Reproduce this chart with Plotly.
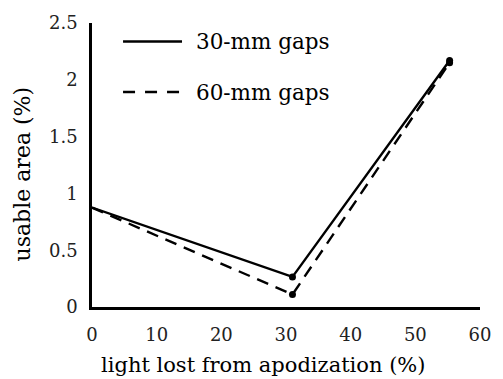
import plotly.graph_objects as go

x_vals = [0, 31, 55.3]
gap30 = [0.875, 0.265, 2.17]
gap60 = [0.875, 0.11, 2.15]
series_names = ["30-mm gaps", "60-mm gaps"]
x_ticks = [0, 10, 20, 30, 40, 50, 60]
y_ticks = [0, 0.5, 1, 1.5, 2, 2.5]
y_tick_text = ["0", "0.5", "1", "1.5", "2", "2.5"]
x_title = "light lost from apodization (%)"
y_title = "usable area (%)"

FONT = "DejaVu Serif"

fig = go.Figure()
fig.add_trace(go.Scatter(
    x=x_vals, y=gap30, mode="lines", name=series_names[0],
    line=dict(color="black", width=2.4), showlegend=False))
fig.add_trace(go.Scatter(
    x=x_vals, y=gap60, mode="lines", name=series_names[1],
    line=dict(color="black", width=2.4, dash="12px,8px"), showlegend=False))
fig.add_trace(go.Scatter(
    x=x_vals[1:], y=gap30[1:], mode="markers",
    marker=dict(color="black", size=7), showlegend=False))
fig.add_trace(go.Scatter(
    x=x_vals[1:], y=gap60[1:], mode="markers",
    marker=dict(color="black", size=7), showlegend=False))

# manual legend
legend_rows = [(0.935, "solid", series_names[0]), (0.757, "dash", series_names[1])]
for yy, dash, label in legend_rows:
    fig.add_shape(type="line", xref="x domain", yref="y domain",
                  x0=0.08, x1=0.232, y0=yy, y1=yy,
                  line=dict(color="black", width=2.4,
                            dash="solid" if dash == "solid" else "12px,10px"))
    fig.add_annotation(xref="x domain", yref="y domain", x=0.262, y=yy,
                       text=label, showarrow=False, xanchor="left", yanchor="middle",
                       font=dict(family=FONT, size=21.5, color="black"))

# axis titles
fig.add_annotation(xref="x domain", yref="y domain", x=0.441, y=-0.205,
                   text=x_title, showarrow=False, xanchor="center", yanchor="middle",
                   font=dict(family=FONT, size=21, color="black"))
fig.add_annotation(xref="x domain", yref="y domain", x=-0.178, y=0.47,
                   text=y_title, showarrow=False, xanchor="center", yanchor="middle",
                   textangle=-90, font=dict(family=FONT, size=22, color="black"))

fig.update_xaxes(range=[0, 60], tickvals=x_ticks, showline=True, linecolor="black",
                 linewidth=2.5, showgrid=False, zeroline=False, ticks="",
                 ticklabelstandoff=10,
                 tickfont=dict(family=FONT, size=18, color="#222"))
fig.update_yaxes(range=[0, 2.5], tickvals=y_ticks, ticktext=y_tick_text, showline=True,
                 linecolor="black", linewidth=2.5, showgrid=False, zeroline=False,
                 ticks="", ticklabelstandoff=8,
                 tickfont=dict(family=FONT, size=18, color="#222"))
fig.update_layout(width=503, height=379, plot_bgcolor="white", paper_bgcolor="white",
                  margin=dict(l=92, r=23, t=18, b=72), hovermode=False)
fig.write_html("out.html", config={"displayModeBar": False},
               post_script="document.body.style.margin='0';document.body.style.overflow='hidden';")
